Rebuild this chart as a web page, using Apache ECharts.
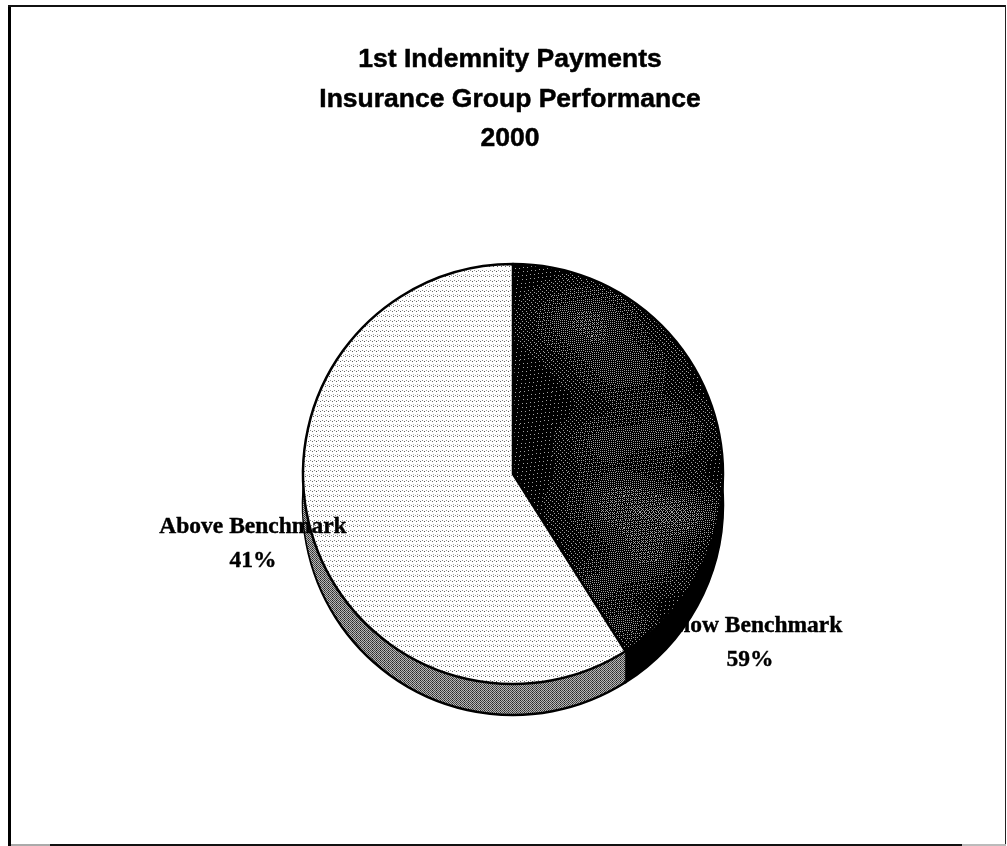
<!DOCTYPE html>
<html>
<head>
<meta charset="utf-8">
<style>html,body{margin:0;padding:0;background:#fff}#chart{width:1007px;height:846px}</style>
<script src="https://cdn.jsdelivr.net/npm/echarts@6/dist/echarts.min.js"></script>
</head>
<body>
<div id="chart"></div>
<script>
// Share of first indemnity payments relative to the benchmark, in percent.
const categories = ['Above Benchmark', 'Below Benchmark'];
const shares = [41, 59];
const titleLines = ['1st Indemnity Payments', 'Insurance Group Performance', '2000'];

// Where each slice's caption sits, in page pixels.
const labelSpots = [{ x: 253, y: 544 }, { x: 750, y: 643 }];

// Small halftone tile: a background colour plus [x, y, grey] dots.
function tile(w, h, bg, dots) {
  const c = document.createElement('canvas');
  c.width = w; c.height = h;
  const g = c.getContext('2d');
  g.fillStyle = bg; g.fillRect(0, 0, w, h);
  dots.forEach(d => { g.fillStyle = d[2]; g.fillRect(d[0], d[1], 1, 1); });
  return { image: c, repeat: 'repeat' };
}

// Pale stipple in wavy rows for the large slice.
const lightFill = tile(12, 10, '#ffffff', [
  [0, 1, '#666'], [2, 0, '#888'], [4, 1, '#555'], [6, 0, '#999'], [8, 1, '#666'], [10, 0, '#888'],
  [1, 4, '#aaa'], [5, 4, '#bbb'], [9, 4, '#aaa'],
  [1, 6, '#666'], [3, 5, '#888'], [5, 6, '#555'], [7, 5, '#999'], [9, 6, '#666'], [11, 5, '#888']
]);

// Dithered shading for the small slice: black with paler cloudy patches.
const bayer = [[0, 8, 2, 10], [12, 4, 14, 6], [3, 11, 1, 9], [15, 7, 13, 5]];
const glowPatches = [
  [585, 320, 55, 0.24], [625, 370, 50, 0.20], [670, 430, 45, 0.18],
  [600, 440, 40, 0.16], [625, 505, 60, 0.28], [690, 515, 35, 0.20],
  [650, 560, 45, 0.20], [590, 590, 40, 0.18], [625, 625, 28, 0.18]
];
function cloudFill() {
  const c = document.createElement('canvas');
  c.width = 1007; c.height = 846;
  const g = c.getContext('2d');
  g.fillStyle = '#000'; g.fillRect(0, 0, c.width, c.height);
  g.fillStyle = '#a0a0a0';
  for (let y = 250; y < 700; y++) {
    for (let x = 500; x < 740; x++) {
      let level = 0.05;
      glowPatches.forEach(p => {
        const d = Math.hypot(x - p[0], (y - p[1]) * 1.5) / p[2];
        level += p[3] * Math.exp(-d * d);
      });
      // Rows and columns drift so the screen does not read as a rigid grid.
      const cell = bayer[(y + (x >> 3)) & 3][(x + (y >> 3)) & 3];
      if ((cell + 0.5) / 16 < level) g.fillRect(x, y, 1, 1);
    }
  }
  return { image: c, repeat: 'no-repeat' };
}
const darkFill = cloudFill();

// Checker dither for the visible wall of the large slice.
const wallDots = [];
for (let y = 0; y < 4; y++) for (let x = 0; x < 4; x++) {
  if ((x + y) % 2 === 0) wallDots.push([x, y, (x === 0 ? '#222' : '#444')]);
}
const wallFill = tile(4, 4, '#b8b8b8', wallDots);

const centerX = 513, faceY = 474, radius = 210, depth = 31;

function sliceData(fills) {
  return categories.map((name, i) => ({ name, value: shares[i], itemStyle: { color: fills[i] } }));
}

// The wall is a stack of identical pies stepped downward beneath the face.
const series = [];
for (let dy = depth; dy > 0; dy -= 2) {
  series.push({
    type: 'pie', silent: true, animation: false, startAngle: 90, clockwise: true,
    center: [centerX, faceY + dy], radius: [0, radius],
    label: { show: false }, labelLine: { show: false },
    itemStyle: dy === depth ? { borderColor: '#000', borderWidth: 2.5 } : { borderWidth: 0 },
    data: sliceData(['#000000', wallFill])
  });
}

series.push({
  type: 'pie', silent: true, animation: false, startAngle: 90, clockwise: true,
  center: [centerX, faceY], radius: [0, radius],
  avoidLabelOverlap: false,
  itemStyle: { borderColor: '#000', borderWidth: 2.5 },
  labelLine: { show: false },
  label: {
    show: true, position: 'outside', formatter: '{b}\n{c}%',
    fontFamily: 'Liberation Serif', fontWeight: 'bold', fontSize: 23.5,
    color: '#000', lineHeight: 34, align: 'center',
    textBorderColor: '#000', textBorderWidth: 0.4
  },
  labelLayout: p => ({
    x: labelSpots[p.dataIndex].x, y: labelSpots[p.dataIndex].y,
    align: 'center', verticalAlign: 'middle'
  }),
  data: sliceData([darkFill, lightFill])
});

// Frame around the chart; its edges carry different weights: x, y, width, height, colour.
const frameEdges = [
  [8, 5, 3, 841, '#000'],
  [8, 5, 998, 2, '#111'],
  [1005, 5, 1, 840, '#222'],
  [11, 844, 40, 2, '#aaa'],
  [50, 844, 912, 2, '#111'],
  [962, 844, 44, 2, '#bbb']
];

const chart = echarts.init(document.getElementById('chart'), null, { renderer: 'canvas' });
chart.setOption({
  backgroundColor: '#fff',
  animation: false,
  title: {
    text: titleLines.join('\n'), left: 505, top: 35, textAlign: 'center',
    textStyle: {
      fontFamily: 'Liberation Sans', fontWeight: 'bold', fontSize: 26.5, lineHeight: 39.5, color: '#000',
      textBorderColor: '#000', textBorderWidth: 0.5
    }
  },
  graphic: frameEdges.map(e => ({
    type: 'rect', silent: true, z: 100,
    shape: { x: e[0], y: e[1], width: e[2], height: e[3] },
    style: { fill: e[4] }
  })),
  series
});
</script>
</body>
</html>
